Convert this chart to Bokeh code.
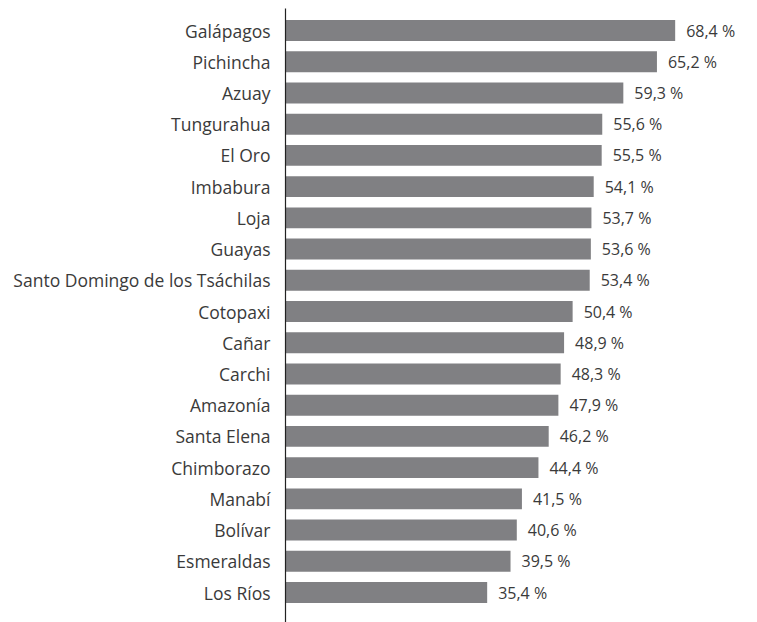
from bokeh.plotting import figure
from bokeh.models import ColumnDataSource, Range1d, FixedTicker, LabelSet
from bokeh.core.properties import value
from bokeh.embed import file_html
from bokeh.resources import INLINE

provinces = ["Galápagos", "Pichincha", "Azuay", "Tungurahua", "El Oro", "Imbabura",
             "Loja", "Guayas", "Santo Domingo de los Tsáchilas", "Cotopaxi", "Cañar",
             "Carchi", "Amazonía", "Santa Elena", "Chimborazo", "Manabí", "Bolívar",
             "Esmeraldas", "Los Ríos"]
values = [68.4, 65.2, 59.3, 55.6, 55.5, 54.1, 53.7, 53.6, 53.4, 50.4, 48.9,
          48.3, 47.9, 46.2, 44.4, 41.5, 40.6, 39.5, 35.4]

pos = list(range(len(provinces)))
labels = [f"{v:.1f}".replace(".", ",") + " %" for v in values]

src = ColumnDataSource(dict(y=pos, v=values, lab=labels))

FONT = "Open Sans"
TEXT = "#3a3a3a"

p = figure(width=757, height=622, output_backend="svg", toolbar_location=None,
           x_range=Range1d(0, 82.85), y_range=Range1d(len(provinces) - 1 + 0.96, -0.705),
           min_border_left=285, min_border_right=0, min_border_top=8, min_border_bottom=0)

p.hbar(y="y", left=0, right="v", height=0.67, source=src,
       fill_color="#808083", line_color=None)

p.add_layout(LabelSet(x="v", y="y", text="lab", source=src, x_offset=11,
                      text_baseline="middle", text_font=value(FONT), text_font_size="16px",
                      text_color=TEXT))

p.xaxis.visible = False
p.xgrid.visible = False
p.ygrid.visible = False
p.outline_line_color = None

ya = p.yaxis[0]
ya.ticker = FixedTicker(ticks=pos)
ya.major_label_overrides = {i: n for i, n in enumerate(provinces)}
ya.major_tick_line_color = None
ya.minor_tick_line_color = None
ya.major_label_standoff = 9
ya.major_label_text_font = FONT
ya.major_label_text_font_size = "17.5px"
ya.major_label_text_color = TEXT
ya.axis_line_color = "#222222"
ya.axis_line_width = 1.2

open("out.html", "w").write(file_html(p, INLINE))
